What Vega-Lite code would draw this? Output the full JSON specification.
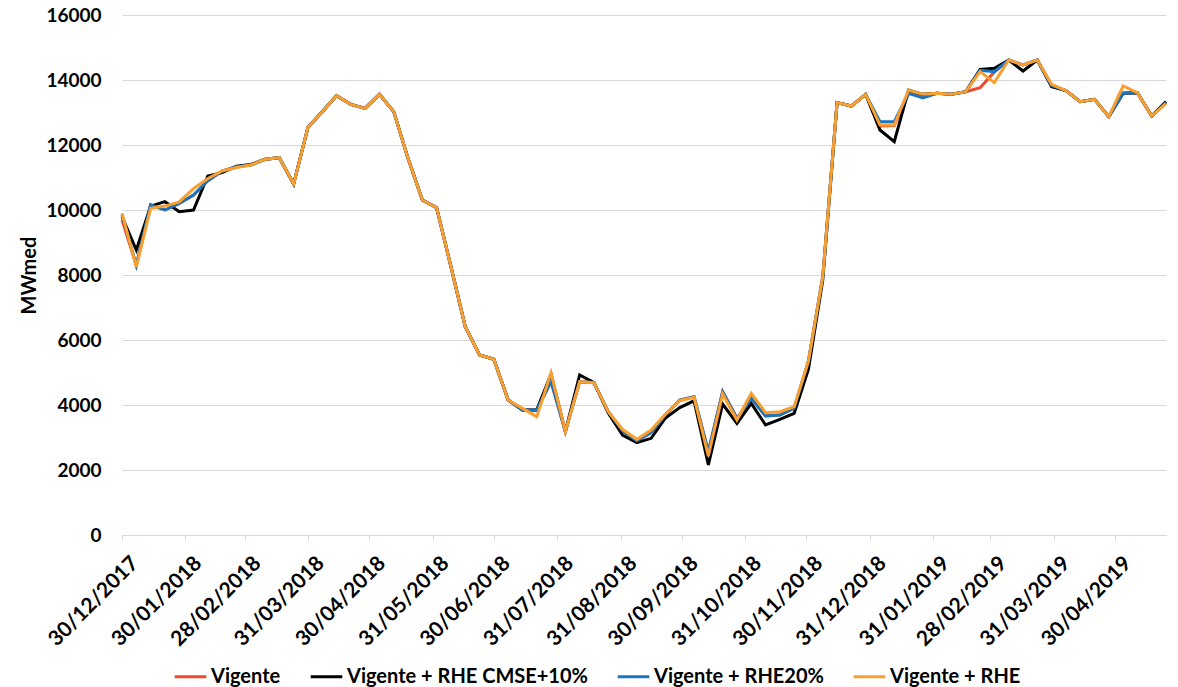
{
"$schema": "https://vega.github.io/schema/vega-lite/v6.json",
"width": 1044, "height": 520,
"autosize": {"type": "none"},
"padding": {"left": 122, "top": 15, "right": 12, "bottom": 152},
"background": "white",
"config": {"font": "Lato", "view": {"stroke": null}},
"data": {"values": [
{"data":"2017-12-30","Vigente":9700,"Vigente + RHE CMSE+10%":9800,"Vigente + RHE20%":9850,"Vigente + RHE":9900},
{"data":"2018-01-06","Vigente":8300,"Vigente + RHE CMSE+10%":8770,"Vigente + RHE20%":8300,"Vigente + RHE":8250},
{"data":"2018-01-13","Vigente":10160,"Vigente + RHE CMSE+10%":10120,"Vigente + RHE20%":10160,"Vigente + RHE":10050},
{"data":"2018-01-20","Vigente":10000,"Vigente + RHE CMSE+10%":10256,"Vigente + RHE20%":10000,"Vigente + RHE":10120},
{"data":"2018-01-27","Vigente":10200,"Vigente + RHE CMSE+10%":9950,"Vigente + RHE20%":10200,"Vigente + RHE":10250},
{"data":"2018-02-03","Vigente":10460,"Vigente + RHE CMSE+10%":10000,"Vigente + RHE20%":10460,"Vigente + RHE":10660},
{"data":"2018-02-10","Vigente":10900,"Vigente + RHE CMSE+10%":11046,"Vigente + RHE20%":10900,"Vigente + RHE":10970},
{"data":"2018-02-17","Vigente":11200,"Vigente + RHE CMSE+10%":11150,"Vigente + RHE20%":11200,"Vigente + RHE":11200},
{"data":"2018-02-24","Vigente":11330,"Vigente + RHE CMSE+10%":11350,"Vigente + RHE20%":11330,"Vigente + RHE":11310},
{"data":"2018-03-03","Vigente":11385,"Vigente + RHE CMSE+10%":11400,"Vigente + RHE20%":11385,"Vigente + RHE":11385},
{"data":"2018-03-10","Vigente":11560,"Vigente + RHE CMSE+10%":11560,"Vigente + RHE20%":11560,"Vigente + RHE":11560},
{"data":"2018-03-17","Vigente":11610,"Vigente + RHE CMSE+10%":11610,"Vigente + RHE20%":11610,"Vigente + RHE":11610},
{"data":"2018-03-24","Vigente":10800,"Vigente + RHE CMSE+10%":10800,"Vigente + RHE20%":10800,"Vigente + RHE":10800},
{"data":"2018-03-31","Vigente":12540,"Vigente + RHE CMSE+10%":12540,"Vigente + RHE20%":12540,"Vigente + RHE":12540},
{"data":"2018-04-07","Vigente":13026,"Vigente + RHE CMSE+10%":13026,"Vigente + RHE20%":13026,"Vigente + RHE":13026},
{"data":"2018-04-14","Vigente":13518,"Vigente + RHE CMSE+10%":13518,"Vigente + RHE20%":13518,"Vigente + RHE":13518},
{"data":"2018-04-21","Vigente":13251,"Vigente + RHE CMSE+10%":13251,"Vigente + RHE20%":13251,"Vigente + RHE":13251},
{"data":"2018-04-28","Vigente":13128,"Vigente + RHE CMSE+10%":13128,"Vigente + RHE20%":13128,"Vigente + RHE":13128},
{"data":"2018-05-05","Vigente":13559,"Vigente + RHE CMSE+10%":13559,"Vigente + RHE20%":13559,"Vigente + RHE":13559},
{"data":"2018-05-12","Vigente":13026,"Vigente + RHE CMSE+10%":13026,"Vigente + RHE20%":13026,"Vigente + RHE":13026},
{"data":"2018-05-19","Vigente":11590,"Vigente + RHE CMSE+10%":11590,"Vigente + RHE20%":11590,"Vigente + RHE":11590},
{"data":"2018-05-26","Vigente":10308,"Vigente + RHE CMSE+10%":10308,"Vigente + RHE20%":10308,"Vigente + RHE":10308},
{"data":"2018-06-02","Vigente":10072,"Vigente + RHE CMSE+10%":10072,"Vigente + RHE20%":10072,"Vigente + RHE":10072},
{"data":"2018-06-09","Vigente":8256,"Vigente + RHE CMSE+10%":8256,"Vigente + RHE20%":8256,"Vigente + RHE":8256},
{"data":"2018-06-16","Vigente":6410,"Vigente + RHE CMSE+10%":6410,"Vigente + RHE20%":6410,"Vigente + RHE":6410},
{"data":"2018-06-23","Vigente":5538,"Vigente + RHE CMSE+10%":5538,"Vigente + RHE20%":5538,"Vigente + RHE":5538},
{"data":"2018-06-30","Vigente":5405,"Vigente + RHE CMSE+10%":5405,"Vigente + RHE20%":5405,"Vigente + RHE":5405},
{"data":"2018-07-07","Vigente":4154,"Vigente + RHE CMSE+10%":4154,"Vigente + RHE20%":4154,"Vigente + RHE":4154},
{"data":"2018-07-14","Vigente":3850,"Vigente + RHE CMSE+10%":3850,"Vigente + RHE20%":3850,"Vigente + RHE":3897},
{"data":"2018-07-21","Vigente":3850,"Vigente + RHE CMSE+10%":3850,"Vigente + RHE20%":3850,"Vigente + RHE":3641},
{"data":"2018-07-28","Vigente":4718,"Vigente + RHE CMSE+10%":4950,"Vigente + RHE20%":4718,"Vigente + RHE":4995},
{"data":"2018-08-04","Vigente":3180,"Vigente + RHE CMSE+10%":3180,"Vigente + RHE20%":3180,"Vigente + RHE":3180},
{"data":"2018-08-11","Vigente":4718,"Vigente + RHE CMSE+10%":4923,"Vigente + RHE20%":4718,"Vigente + RHE":4718},
{"data":"2018-08-18","Vigente":4687,"Vigente + RHE CMSE+10%":4687,"Vigente + RHE20%":4687,"Vigente + RHE":4687},
{"data":"2018-08-25","Vigente":3795,"Vigente + RHE CMSE+10%":3750,"Vigente + RHE20%":3795,"Vigente + RHE":3795},
{"data":"2018-09-01","Vigente":3200,"Vigente + RHE CMSE+10%":3077,"Vigente + RHE20%":3200,"Vigente + RHE":3251},
{"data":"2018-09-08","Vigente":2900,"Vigente + RHE CMSE+10%":2840,"Vigente + RHE20%":2900,"Vigente + RHE":2944},
{"data":"2018-09-15","Vigente":3150,"Vigente + RHE CMSE+10%":2975,"Vigente + RHE20%":3150,"Vigente + RHE":3231},
{"data":"2018-09-22","Vigente":3700,"Vigente + RHE CMSE+10%":3600,"Vigente + RHE20%":3700,"Vigente + RHE":3723},
{"data":"2018-09-29","Vigente":4150,"Vigente + RHE CMSE+10%":3920,"Vigente + RHE20%":4150,"Vigente + RHE":4133},
{"data":"2018-10-06","Vigente":4250,"Vigente + RHE CMSE+10%":4130,"Vigente + RHE20%":4250,"Vigente + RHE":4236},
{"data":"2018-10-13","Vigente":2564,"Vigente + RHE CMSE+10%":2154,"Vigente + RHE20%":2564,"Vigente + RHE":2430},
{"data":"2018-10-20","Vigente":4410,"Vigente + RHE CMSE+10%":4030,"Vigente + RHE20%":4410,"Vigente + RHE":4338},
{"data":"2018-10-27","Vigente":3590,"Vigente + RHE CMSE+10%":3436,"Vigente + RHE20%":3590,"Vigente + RHE":3538},
{"data":"2018-11-03","Vigente":4205,"Vigente + RHE CMSE+10%":4051,"Vigente + RHE20%":4205,"Vigente + RHE":4359},
{"data":"2018-11-10","Vigente":3661,"Vigente + RHE CMSE+10%":3385,"Vigente + RHE20%":3661,"Vigente + RHE":3764},
{"data":"2018-11-17","Vigente":3692,"Vigente + RHE CMSE+10%":3559,"Vigente + RHE20%":3692,"Vigente + RHE":3795},
{"data":"2018-11-24","Vigente":3900,"Vigente + RHE CMSE+10%":3744,"Vigente + RHE20%":3900,"Vigente + RHE":3949},
{"data":"2018-12-01","Vigente":5350,"Vigente + RHE CMSE+10%":5100,"Vigente + RHE20%":5350,"Vigente + RHE":5350},
{"data":"2018-12-08","Vigente":7950,"Vigente + RHE CMSE+10%":7846,"Vigente + RHE20%":7950,"Vigente + RHE":7949},
{"data":"2018-12-15","Vigente":13303,"Vigente + RHE CMSE+10%":13303,"Vigente + RHE20%":13303,"Vigente + RHE":13303},
{"data":"2018-12-22","Vigente":13200,"Vigente + RHE CMSE+10%":13200,"Vigente + RHE20%":13200,"Vigente + RHE":13200},
{"data":"2018-12-29","Vigente":13559,"Vigente + RHE CMSE+10%":13559,"Vigente + RHE20%":13559,"Vigente + RHE":13559},
{"data":"2019-01-05","Vigente":12584,"Vigente + RHE CMSE+10%":12461,"Vigente + RHE20%":12718,"Vigente + RHE":12615},
{"data":"2019-01-12","Vigente":12600,"Vigente + RHE CMSE+10%":12103,"Vigente + RHE20%":12718,"Vigente + RHE":12615},
{"data":"2019-01-19","Vigente":13590,"Vigente + RHE CMSE+10%":13692,"Vigente + RHE20%":13590,"Vigente + RHE":13692},
{"data":"2019-01-26","Vigente":13500,"Vigente + RHE CMSE+10%":13559,"Vigente + RHE20%":13450,"Vigente + RHE":13559},
{"data":"2019-02-02","Vigente":13590,"Vigente + RHE CMSE+10%":13590,"Vigente + RHE20%":13590,"Vigente + RHE":13590},
{"data":"2019-02-09","Vigente":13559,"Vigente + RHE CMSE+10%":13559,"Vigente + RHE20%":13559,"Vigente + RHE":13559},
{"data":"2019-02-16","Vigente":13641,"Vigente + RHE CMSE+10%":13641,"Vigente + RHE20%":13641,"Vigente + RHE":13641},
{"data":"2019-02-23","Vigente":13764,"Vigente + RHE CMSE+10%":14328,"Vigente + RHE20%":14300,"Vigente + RHE":14256},
{"data":"2019-03-02","Vigente":14250,"Vigente + RHE CMSE+10%":14359,"Vigente + RHE20%":14256,"Vigente + RHE":13918},
{"data":"2019-03-09","Vigente":14615,"Vigente + RHE CMSE+10%":14615,"Vigente + RHE20%":14615,"Vigente + RHE":14615},
{"data":"2019-03-16","Vigente":14461,"Vigente + RHE CMSE+10%":14277,"Vigente + RHE20%":14461,"Vigente + RHE":14461},
{"data":"2019-03-23","Vigente":14615,"Vigente + RHE CMSE+10%":14615,"Vigente + RHE20%":14615,"Vigente + RHE":14615},
{"data":"2019-03-30","Vigente":13830,"Vigente + RHE CMSE+10%":13795,"Vigente + RHE20%":13830,"Vigente + RHE":13867},
{"data":"2019-04-06","Vigente":13672,"Vigente + RHE CMSE+10%":13672,"Vigente + RHE20%":13672,"Vigente + RHE":13672},
{"data":"2019-04-13","Vigente":13333,"Vigente + RHE CMSE+10%":13333,"Vigente + RHE20%":13333,"Vigente + RHE":13333},
{"data":"2019-04-20","Vigente":13405,"Vigente + RHE CMSE+10%":13405,"Vigente + RHE20%":13405,"Vigente + RHE":13405},
{"data":"2019-04-27","Vigente":12872,"Vigente + RHE CMSE+10%":12872,"Vigente + RHE20%":12872,"Vigente + RHE":12872},
{"data":"2019-05-04","Vigente":13590,"Vigente + RHE CMSE+10%":13590,"Vigente + RHE20%":13590,"Vigente + RHE":13815},
{"data":"2019-05-11","Vigente":13610,"Vigente + RHE CMSE+10%":13610,"Vigente + RHE20%":13610,"Vigente + RHE":13610},
{"data":"2019-05-18","Vigente":12892,"Vigente + RHE CMSE+10%":12892,"Vigente + RHE20%":12892,"Vigente + RHE":12892},
{"data":"2019-05-25","Vigente":13300,"Vigente + RHE CMSE+10%":13333,"Vigente + RHE20%":13300,"Vigente + RHE":13282}
]},
"transform": [{"fold": ["Vigente", "Vigente + RHE CMSE+10%", "Vigente + RHE20%", "Vigente + RHE"], "as": ["serie", "valor"]}],
"encoding": {
  "x": {"field": "data", "type": "temporal",
    "scale": {"type": "utc", "domain": [{"year": 2017, "month": 12, "date": 30, "utc": true}, {"year": 2019, "month": 5, "date": 25, "utc": true}]},
    "axis": {"title": null, "grid": false, "format": "%d/%m/%Y",
      "values": [
        {"year": 2017, "month": 12, "date": 30, "utc": true},
        {"year": 2018, "month": 1, "date": 30, "utc": true},
        {"year": 2018, "month": 2, "date": 28, "utc": true},
        {"year": 2018, "month": 3, "date": 31, "utc": true},
        {"year": 2018, "month": 4, "date": 30, "utc": true},
        {"year": 2018, "month": 5, "date": 31, "utc": true},
        {"year": 2018, "month": 6, "date": 30, "utc": true},
        {"year": 2018, "month": 7, "date": 31, "utc": true},
        {"year": 2018, "month": 8, "date": 31, "utc": true},
        {"year": 2018, "month": 9, "date": 30, "utc": true},
        {"year": 2018, "month": 10, "date": 31, "utc": true},
        {"year": 2018, "month": 11, "date": 30, "utc": true},
        {"year": 2018, "month": 12, "date": 31, "utc": true},
        {"year": 2019, "month": 1, "date": 31, "utc": true},
        {"year": 2019, "month": 2, "date": 28, "utc": true},
        {"year": 2019, "month": 3, "date": 31, "utc": true},
        {"year": 2019, "month": 4, "date": 30, "utc": true}
      ],
      "labelAngle": -45, "labelAlign": "right", "labelBaseline": "top", "labelOffset": 5, "labelPadding": 12,
      "labelFontSize": 21, "labelFontWeight": "bold", "labelColor": "#000000", "labelOverlap": false, "labelFlush": false,
      "tickColor": "#D9D9D9", "tickSize": 5, "domainColor": "#D9D9D9", "domainWidth": 1}},
  "y": {"field": "valor", "type": "quantitative",
    "scale": {"domain": [0, 16000], "nice": false},
    "axis": {"values": [0, 2000, 4000, 6000, 8000, 10000, 12000, 14000, 16000], "format": "d",
      "grid": true, "gridColor": "#D9D9D9", "gridWidth": 1, "domain": false, "ticks": false,
      "labelPadding": 21, "labelFontSize": 19, "labelFontWeight": "bold", "labelColor": "#000000",
      "title": "MWmed", "titleFontSize": 20, "titleFontWeight": "bold", "titleColor": "#000000", "titlePadding": 6}},
  "color": {"field": "serie", "type": "nominal",
    "scale": {"domain": ["Vigente", "Vigente + RHE CMSE+10%", "Vigente + RHE20%", "Vigente + RHE"], "range": ["#F4472A", "#000000", "#1B75BB", "#F99F30"]},
    "legend": {"title": null, "orient": "none", "legendX": 51, "legendY": 644, "direction": "horizontal",
      "symbolType": "stroke", "symbolSize": 1000, "symbolStrokeWidth": 3, "labelOffset": 3, "columnPadding": 23,
      "labelLimit": 0, "labelFontSize": 20, "labelFontWeight": "bold", "labelColor": "#000000"}}
},
"layer": [
  {"transform": [{"filter": {"field": "serie", "equal": "Vigente"}}], "mark": {"type": "line", "strokeWidth": 3}},
  {"transform": [{"filter": {"field": "serie", "equal": "Vigente + RHE CMSE+10%"}}], "mark": {"type": "line", "strokeWidth": 3}},
  {"transform": [{"filter": {"field": "serie", "equal": "Vigente + RHE20%"}}], "mark": {"type": "line", "strokeWidth": 3}},
  {"transform": [{"filter": {"field": "serie", "equal": "Vigente + RHE"}}], "mark": {"type": "line", "strokeWidth": 3}}
]
}
